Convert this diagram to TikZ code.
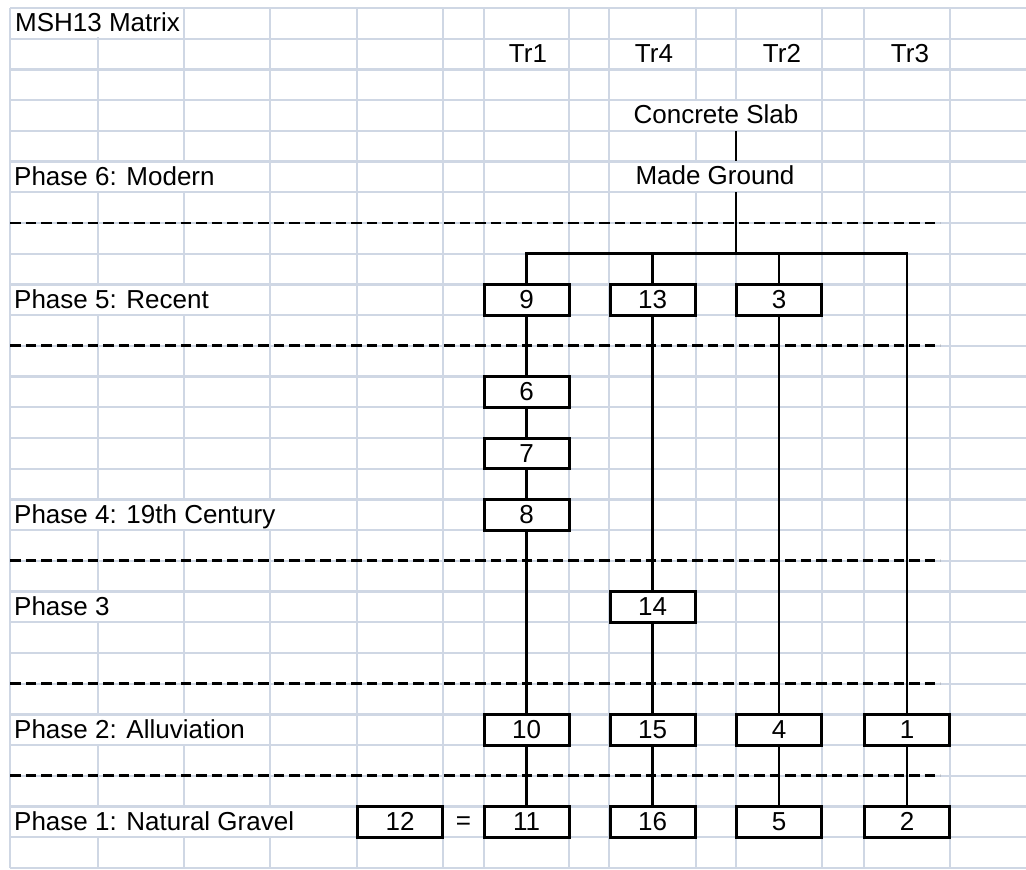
\documentclass[tikz,border=0pt]{standalone}
\usepackage{fontspec}
\setmainfont{Liberation Sans}
\newcommand\cellsz{\fontsize{26}{30}\selectfont}
\definecolor{gridc}{HTML}{CFD7E4}
\def\R#1{(8+30.714*(#1))}
\begin{document}
\begin{tikzpicture}[x=1pt,y=-1pt,
  gridline/.style={draw=gridc,line width=2.4pt},
  mask/.style={fill=white,draw=none},
  phase/.style={line width=2.8pt,dash pattern=on 10.5pt off 5pt},
  conn/.style={line width=2.7pt},
  lab/.style={inner sep=0pt,font=\cellsz,anchor=base west},
  cellt/.style={inner sep=0pt,minimum height=30.714pt,text height=16pt,text depth=0pt,font=\cellsz},
  unit/.style={draw,line width=3pt,fill=white,minimum width=85pt,minimum height=30.714pt,inner sep=0pt,text height=18pt,text depth=0pt,font=\cellsz},
]
\useasboundingbox (0,0) rectangle (1026,870);
\fill[white] (0,0) rectangle (1026,870);
% spreadsheet grid
\foreach \k in {0,...,28} \draw[gridline] (10,{\R{\k}}) -- (1026,{\R{\k}});
\foreach \x in {10,98,184,270,357,443,484,569,609,696,736,822,864,950} \draw[gridline] (\x,{\R{0}}) -- (\x,{\R{28}});
% text overflow hides cell borders
\foreach \k/\a/\b in {0/11.3/182.7, 3/610.3/820.7, 5/11.3/268.7, 5/610.3/820.7, 9/11.3/268.7, 16/11.3/355.7, 19/11.3/182.7, 23/11.3/268.7, 26/11.3/355.7}
  \fill[mask] (\a,{\R{\k}+1.3}) rectangle (\b,{\R{\k+1}-1.3});
% phase separators
\foreach \k in {7,11,18,22,25} \draw[phase] (10,{\R{\k}}) -- (940,{\R{\k}});
% labels
\node[lab] (title) at (15,{\R{1}-7}) {MSH13 Matrix};
\node[lab] (p6) at (14,{\R{6}-7}) {Phase 6: Modern};
\node[lab] (p5) at (14,{\R{10}-7}) {Phase 5: Recent};
\node[lab] (p4) at (14,{\R{17}-7}) {Phase 4: 19th Century};
\node[lab] (p3) at (14,{\R{20}-7}) {Phase 3};
\node[lab] (p2) at (14,{\R{24}-7}) {Phase 2: Alluviation};
\node[lab] (p1) at (14,{\R{27}-7}) {Phase 1: Natural Gravel};
\node[cellt] (tr1) at (528,{\R{1}+15.357}) {Tr1};
\node[cellt] (tr4) at (654,{\R{1}+15.357}) {Tr4};
\node[cellt] (tr2) at (782,{\R{1}+15.357}) {Tr2};
\node[cellt] (tr3) at (910,{\R{1}+15.357}) {Tr3};
\node[cellt] (slab) at (716,{\R{3}+15.357}) {Concrete Slab};
\node[cellt] (made) at (715,{\R{5}+15.357}) {Made Ground};
% units
\node[unit] (b9) at (526.5,{\R{9}+15.357}) {9};
\node[unit] (b13) at (652.5,{\R{9}+15.357}) {13};
\node[unit] (b3) at (779,{\R{9}+15.357}) {3};
\node[unit] (b6) at (526.5,{\R{12}+15.357}) {6};
\node[unit] (b7) at (526.5,{\R{14}+15.357}) {7};
\node[unit] (b8) at (526.5,{\R{16}+15.357}) {8};
\node[unit] (b14) at (652.5,{\R{19}+15.357}) {14};
\node[unit] (b10) at (526.5,{\R{23}+15.357}) {10};
\node[unit] (b15) at (652.5,{\R{23}+15.357}) {15};
\node[unit] (b4) at (779,{\R{23}+15.357}) {4};
\node[unit] (b1) at (907,{\R{23}+15.357}) {1};
\node[unit] (b12) at (400,{\R{26}+15.357}) {12};
\node[cellt] (eq) at (463.5,{\R{26}+15.357}) {=};
\node[unit] (b11) at (526.5,{\R{26}+15.357}) {11};
\node[unit] (b16) at (652.5,{\R{26}+15.357}) {16};
\node[unit] (b5) at (779,{\R{26}+15.357}) {5};
\node[unit] (b2) at (907,{\R{26}+15.357}) {2};
% connectors
\coordinate (bar) at (736,{\R{8}});
\draw[conn] (slab.south -| bar) -- (made.north -| bar);
\draw[conn] (made.south -| bar) -- (bar);
\draw[conn] (b9.north) |- (bar) -| (b1.north);
\draw[conn] (b13.north) -- (b13.north |- bar);
\draw[conn] (b3.north) -- (b3.north |- bar);
\draw[conn] (b9) -- (b6);
\draw[conn] (b6) -- (b7);
\draw[conn] (b7) -- (b8);
\draw[conn] (b8) -- (b10);
\draw[conn] (b10) -- (b11);
\draw[conn] (b13) -- (b14);
\draw[conn] (b14) -- (b15);
\draw[conn] (b15) -- (b16);
\draw[conn] (b3) -- (b4);
\draw[conn] (b4) -- (b5);
\draw[conn] (b1) -- (b2);
\end{tikzpicture}
\end{document}
